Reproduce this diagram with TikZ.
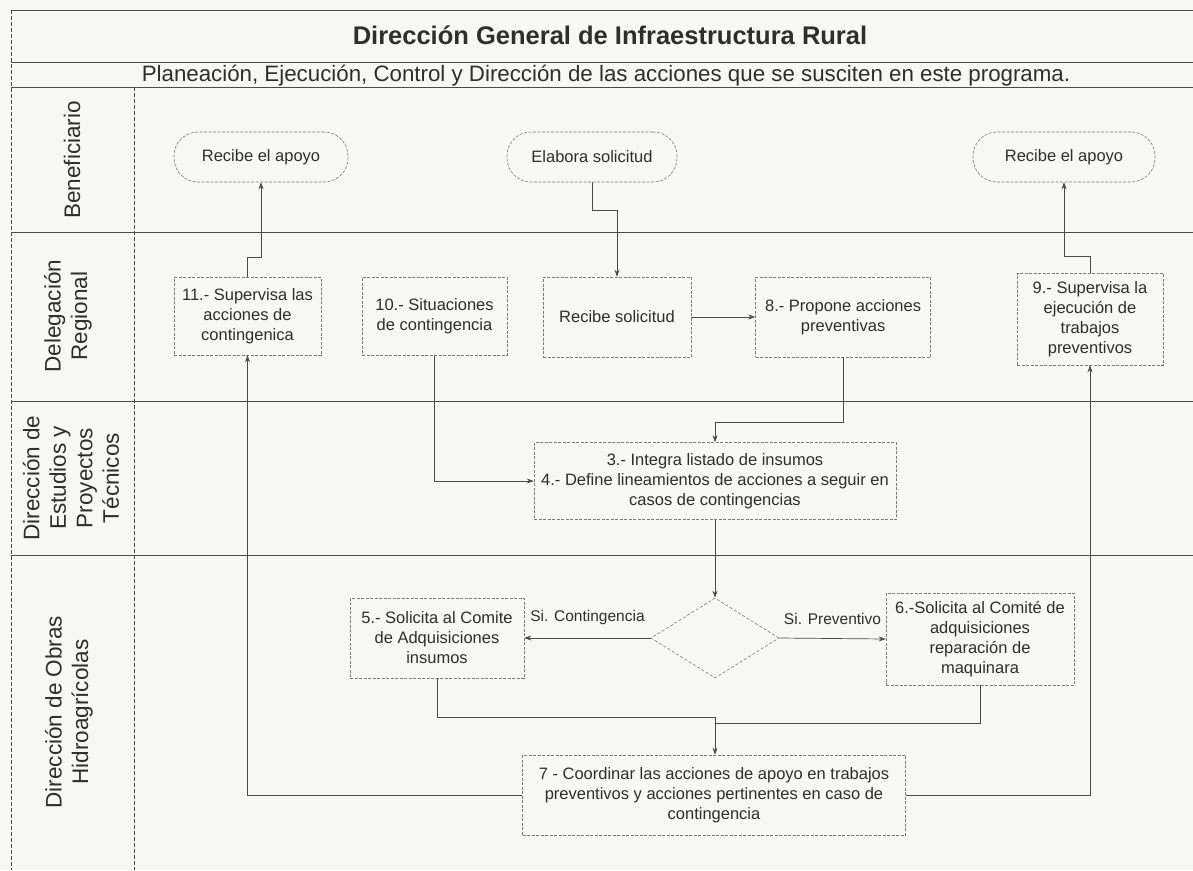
\documentclass[tikz,border=0pt]{standalone}
\usepackage{fontspec}
\setmainfont{Liberation Sans}
\usepackage{tikz}
\usetikzlibrary{positioning,arrows.meta,shapes.geometric,calc}
\definecolor{paper}{HTML}{F7F7F5}
\definecolor{ink}{HTML}{2E2E2E}
\definecolor{ruleink}{HTML}{4A4A4A}
\definecolor{boxgray}{HTML}{7A7A7A}

\begin{document}
\begin{tikzpicture}[
    x=1pt, y=-1pt,
    box/.style={draw=boxgray, dash pattern=on 3pt off 1.5pt, line width=0.6pt,
                align=center, inner sep=2pt, text=ink,
                font=\fontsize{16.5}{20}\selectfont},
    term/.style={box, rounded corners=24pt, minimum height=50pt},
    decision/.style={diamond, draw=boxgray, dash pattern=on 3pt off 2pt,
                     line width=0.6pt, inner sep=0pt, minimum width=128pt,
                     minimum height=80pt},
    lane/.style={rotate=90, align=center, text=ink,
                 font=\fontsize{22.5}{26.5}\selectfont},
    tag/.style={text=ink, font=\fontsize{15.5}{18}\selectfont},
    laneline/.style={draw=ruleink, line width=0.6pt},
    divider/.style={draw=ruleink, line width=0.6pt, dash pattern=on 4pt off 2pt},
    arrow/.style={-{Stealth[length=7pt,width=5pt]}, draw=ruleink, line width=0.7pt},
    flow/.style={draw=ruleink, line width=0.7pt},
]
\useasboundingbox (0,0) rectangle (1193,870);
\fill[paper] (0,0) rectangle (1193,870);

% frame and lanes
\draw[laneline] (11,10) -- (1193,10);
\draw[laneline] (11,62) -- (1193,62);
\draw[laneline] (11,87) -- (1193,87);
\foreach \y in {232,401,555}
    \draw[laneline] (11,\y) -- (1193,\y);
\draw[divider] (11,10) -- (11,870);
\draw[divider] (134,87) -- (134,870);

% heading
\node[font=\bfseries\fontsize{25.5}{29}\selectfont, text=ink] (titulo) at (610,35)
    {Dirección General de Infraestructura Rural};
\node[font=\fontsize{22.3}{26}\selectfont, text=ink] (subtitulo) at (606,76)
    {Planeación, Ejecución, Control y Dirección de las acciones que se susciten en este programa.};

% lane labels
\node[lane] (lbenef) at (72,160) {Beneficiario};
\node[lane] (ldeleg) at (68,316) {Delegación\\Regional};
\node[lane] (lestud) at (71,478) {Dirección de\\Estudios y\\Proyectos\\Técnicos};
\node[lane] (lobras) at (69,712) {Dirección de Obras\\Hidroagrícolas};

% Beneficiario
\node[term, minimum width=174pt] (apoyo1) at (261,157) {Recibe el apoyo};
\node[term, minimum width=170pt] (elabora) at (592,157) {Elabora solicitud};
\node[term, minimum width=182pt] (apoyo2) at (1064,157) {Recibe el apoyo};

% Delegacion Regional
\node[box, minimum width=147pt, minimum height=78pt] (sup11) at (247.5,316)
    {11.- Supervisa las\\acciones de\\contingenica};
\node[box, minimum width=145pt, minimum height=78pt] (sit10) at (434.5,316)
    {10.- Situaciones\\de contingencia};
\node[box, minimum width=148pt, minimum height=80pt] (recsol) at (617,317)
    {Recibe solicitud};
\node[box, minimum width=175pt, minimum height=80pt, right=64pt of recsol]
    (prop8) {8.- Propone acciones\\preventivas};
\node[box, minimum width=146pt, minimum height=92pt] (sup9) at (1090,319)
    {9.- Supervisa la\\ejecución de\\trabajos\\preventivos};

% Direccion de Estudios
\node[box, minimum width=362pt, minimum height=77pt] (lista) at (715,481)
    {3.- Integra listado de insumos\\4.- Define lineamientos de acciones a seguir en\\casos de contingencias};

% Direccion de Obras
\node[decision] (decide) at (715,638) {};
\node[box, minimum width=174pt, minimum height=80pt] (sol5) at (437,638)
    {5.- Solicita al Comite\\de Adquisiciones\\insumos};
\node[box, minimum width=188pt, minimum height=92pt] (sol6) at (980,639)
    {6.-Solicita al Comité de\\adquisiciones\\reparación de\\maquinara};
\node[box, minimum width=383pt, minimum height=80pt] (coord7) at (714,795)
    {7 - Coordinar las acciones de apoyo en trabajos\\preventivos y acciones pertinentes en caso de\\contingencia};

% Arrows: solicitud
\draw[arrow] (elabora.south) -- ++(0,28) -| (recsol.north);
\draw[arrow] (recsol) -- (prop8);
\draw[arrow] (prop8.south) -- ++(0,65) -| (lista.north);
\draw[arrow] (sit10.south) |- (lista.west);
\draw[arrow] (lista.south) -- (decide.north);

% Arrows: decision
\draw[arrow] (decide.west) -- node[tag, above=10pt] (sicont) {Si. Contingencia} (sol5.east);
\draw[arrow] (decide.east) -- node[tag, above=10pt] (siprev) {Si. Preventivo} (sol6.west);

% Arrows: into 7
\coordinate (join) at (715,717);
\draw[flow] (sol5.south) |- (join);
\draw[flow] (sol6.south) -- ++(0,38) -| (join);
\draw[arrow] (join) -- (join |- coord7.north);

% Arrows: supervision and apoyo
\draw[arrow] (coord7.west) -| (sup11.south);
\draw[arrow] (coord7.east) -| (sup9.south);
\draw[arrow] (sup11.north) -- ++(0,-19) -| (apoyo1.south);
\draw[arrow] (sup9.north) -- ++(0,-16) -| (apoyo2.south);

\end{tikzpicture}
\end{document}
